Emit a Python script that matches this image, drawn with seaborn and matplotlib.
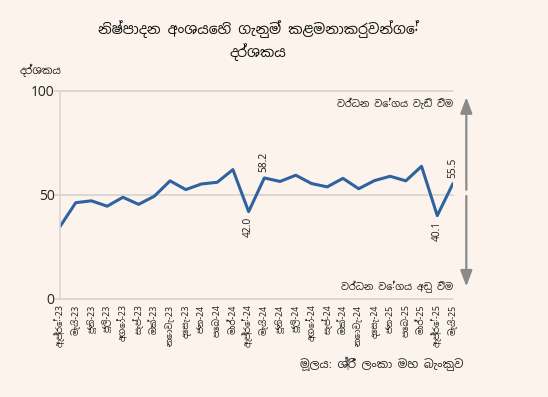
import matplotlib
matplotlib.use("Agg")
import matplotlib.pyplot as plt
import seaborn as sns
import pandas as pd
import numpy as np

months = ["ඇප්‍රේ-23", "මැයි-23", "ජූනි-23", "ජූලි-23", "අගෝ-23", "සැප්-23", "ඔක්-23",
          "නොවැ-23", "දෙසැ-23", "ජන-24", "පෙබ-24", "මාර්-24", "ඇප්‍රේ-24", "මැයි-24",
          "ජූනි-24", "ජූලි-24", "අගෝ-24", "සැප්-24", "ඔක්-24", "නොවැ-24", "දෙසැ-24",
          "ජන-25", "පෙබ-25", "මාර්-25", "ඇප්‍රේ-25", "මැයි-25"]
pmi = [34.8, 46.3, 47.2, 44.6, 48.9, 45.5, 49.4, 56.8, 52.6, 55.3, 56.1, 62.2, 42.0, 58.2,
       56.5, 59.5, 55.5, 53.9, 58.0, 53.0, 56.9, 59.0, 56.8, 63.8, 40.1, 55.5]
labelled = {12: "below", 13: "above", 24: "below", 25: "above"}
yticks = [0, 50, 100]

title = "නිෂ්පාදන අංශයෙහි ගැනුම් කළමනාකරුවන්ගේ\nදර්ශකය"
ylab = "දර්ශකය"
up_txt = "වර්ධන වේගය වැඩි වීම"
down_txt = "වර්ධන වේගය අඩු වීම"
source = "මූලය: ශ්‍රී ලංකා මහ බැංකුව"

sns.set_theme(style="white")
bg = "#FCF4EC"
fams = ["Noto Sans Sinhala", "Noto Sans", "DejaVu Sans"]
plt.rcParams["font.family"] = fams

df = pd.DataFrame({"x": np.arange(len(months)), "v": pmi})

fig = plt.figure(figsize=(5.48, 3.97), dpi=100, facecolor=bg)
ax = fig.add_axes([0.1095, 0.2469, 0.7171, 0.5239])
ax.set_facecolor(bg)
sns.lineplot(data=df, x="x", y="v", ax=ax, color="#2F62A0", linewidth=2.2)

ax.set_xlim(0, len(months) - 1)
ax.set_ylim(0, 100)
ax.set_yticks(yticks)
ax.set_yticklabels([str(t) for t in yticks], fontsize=10, color="#222222")
ax.set_xticks(df["x"])
ax.set_xticklabels(months, rotation=90, fontsize=6.3, color="#222222")
ax.tick_params(axis="both", length=0, pad=4)
ax.set_xlabel("")
ax.set_ylabel("")
for t in yticks:
    ax.axhline(t, color="#D9D2CC", linewidth=1.2, zorder=0, xmin=-0.015, clip_on=False)
for s in ["top", "right", "bottom"]:
    ax.spines[s].set_visible(False)
ax.spines["left"].set_color("#DDD6D0")
ax.spines["left"].set_linewidth(1.2)

for i, pos in labelled.items():
    v = pmi[i]
    if pos == "above":
        ax.annotate(f"{v:.1f}", (i, v), xytext=(0, 4), textcoords="offset points",
                    rotation=90, ha="center", va="bottom", fontsize=7.3, color="#222222")
    else:
        ax.annotate(f"{v:.1f}", (i, v), xytext=(0, -4), textcoords="offset points",
                    rotation=90, ha="center", va="top", fontsize=7.3, color="#222222")

# arrows
arrow_kw = dict(arrowstyle="-|>,head_width=0.3,head_length=0.8", color="#8A8A8A", lw=1.6,
                shrinkA=0, shrinkB=0)
ax.annotate("", xy=(25.85, 97), xytext=(25.85, 52.5), arrowprops=arrow_kw, annotation_clip=False)
ax.annotate("", xy=(25.85, 6), xytext=(25.85, 49.5), arrowprops=arrow_kw, annotation_clip=False)
ax.text(25.0, 94, up_txt, ha="right", va="center", fontsize=7, color="#222222")
ax.text(25.0, 5.8, down_txt, ha="right", va="center", fontsize=7, color="#222222")

fig.text(0.471, 0.898, title, ha="center", va="center", fontsize=10.2, fontweight="bold",
         color="#111111", linespacing=1.35)
fig.text(0.036, 0.822, ylab, ha="left", va="center", fontsize=7.5, color="#222222")
fig.text(0.845, 0.083, source, ha="right", va="center", fontsize=8.2, color="#222222")

fig.savefig("out.png", dpi=100, facecolor=bg)
